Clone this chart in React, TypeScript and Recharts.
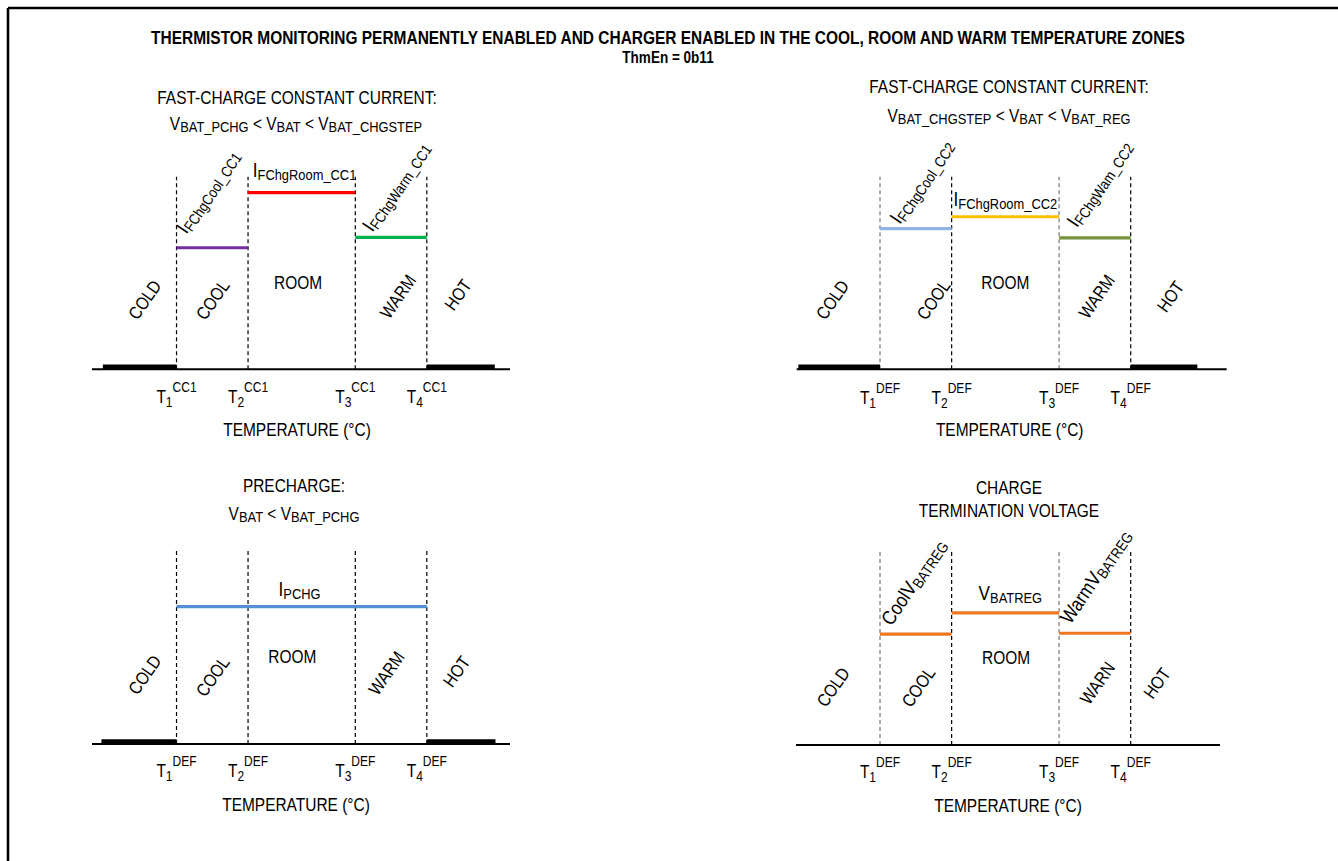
import React from "react";
import { LineChart, Line, XAxis, YAxis, ReferenceLine, ReferenceDot } from "recharts";

const FONT = '"Liberation Sans", Arial, sans-serif';
const SX = 0.86; // the reference uses a narrow face, so text is squeezed horizontally

// temperature thresholds T1..T4 on a relative temperature axis
const thresholds = [0, 10, 25, 35];
const thresholdIndex = ["1", "2", "3", "4"];
const zoneNames = ["COLD", "COOL", "ROOM", "WARM", "HOT"];
const zoneNamesTermination = ["COLD", "COOL", "ROOM", "WARN", "HOT"];

// levels in the cool, room and warm zones (% of full scale)
const fastCc1Levels = [63.1, 91.7, 68.5];
const fastCc2Levels = [73.0, 79.2, 68.2];
const prechargeLevels = [70.8];
const terminationLevels = [56.9, 67.8, 57.3];

// charger off in COLD / HOT
const offLevel = 1.3;
const fastCc1Off = [[-10.3, 0], [35, 44.5]];
const fastCc2Off = [[-11.4, 0], [35, 44.3]];
const prechargeOff = [[-10.5, 0], [35, 44.6]];

type Part = { t: string; s?: "sub" | "sup" };

function rich(parts: Part[], size: number, small: number, subShift = 3, supShift = -11.5) {
  let cur = 0;
  return parts.map((p, i) => {
    const target = p.s === "sub" ? subShift : p.s === "sup" ? supShift : 0;
    const dy = target - cur;
    cur = target;
    return (
      <tspan key={i} dy={dy} fontSize={p.s ? small : size}>
        {p.t}
      </tspan>
    );
  });
}

// narrow text: translate, rotate, then squeeze along the baseline
function NText({ x, y, rot = 0, anchor = "middle", sx = SX, children, ...rest }: any) {
  return (
    <text
      transform={`translate(${x} ${y})${rot ? ` rotate(${rot})` : ""} scale(${sx} 1)`}
      x={0}
      y={0}
      textAnchor={anchor}
      fontFamily={FONT}
      fill="#000"
      {...rest}
    >
      {children}
    </text>
  );
}

function segments(levels: number[], colors: string[]) {
  if (levels.length === 1) {
    return [{ data: [{ t: thresholds[0], v: levels[0] }, { t: thresholds[3], v: levels[0] }], color: colors[0] }];
  }
  return levels.map((v, i) => ({
    data: [{ t: thresholds[i], v }, { t: thresholds[i + 1], v }],
    color: colors[i],
  }));
}

const ThresholdTick = (props: any) => {
  const { x, y, payload, sup, offset } = props;
  const idx = thresholds.indexOf(payload.value);
  return (
    <NText x={x} y={y + offset}>
      {rich([{ t: "T" }, { t: thresholdIndex[idx], s: "sub" }, { t: sup, s: "sup" }], 18, 14, 3.5, -11)}
    </NText>
  );
};

const panels = [
  {
    box: { left: 0, top: 110, width: 669, height: 340 },
    margin: { top: 66.7, right: 159, bottom: 10.7, left: 92 },
    xDomain: [-11.82, 46.63],
    sup: "CC1",
    tickOffset: 34,
    labelDx: -4,
    dash: ["#000", "#000", "#000", "#000"],
    segs: segments(fastCc1Levels, ["#7030A0", "#FF0000", "#00B050"]),
    off: fastCc1Off,
    zones: zoneNames,
    zonePos: [[-4.4, 36, -55], [5.1, 36, -55], [17.0, 44.6, 0], [31.0, 37.7, -55], [39.4, 38.6, -55]],
    labels: [
      { parts: [{ t: "I" }, { t: "FChgCool_CC1", s: "sub" }], x: 1.4, y: 69.8, rot: -56, anchor: "start" },
      { parts: [{ t: "I" }, { t: "FChgRoom_CC1", s: "sub" }], x: 17.9, y: 99.8, rot: 0, anchor: "middle" },
      { parts: [{ t: "I" }, { t: "FChgWarm_CC1", s: "sub" }], x: 27.4, y: 70.9, rot: -56, anchor: "start" },
    ] as any[],
  },
  {
    box: { left: 669, top: 110, width: 669, height: 340 },
    margin: { top: 66.7, right: 111.3, bottom: 10.7, left: 127.7 },
    xDomain: [-11.63, 48.4],
    sup: "DEF",
    tickOffset: 35,
    labelDx: -2,
    dash: ["#777", "#000", "#777", "#000"],
    segs: segments(fastCc2Levels, ["#8DB4E2", "#FFC000", "#77933C"]),
    off: fastCc2Off,
    zones: zoneNames,
    zonePos: [[-6.6, 36, -55], [7.5, 36, -55], [17.5, 44.6, 0], [30.3, 37.7, -55], [40.6, 37.7, -55]],
    labels: [
      { parts: [{ t: "I" }, { t: "FChgCool_CC2", s: "sub" }], x: 2.8, y: 74.9, rot: -56, anchor: "start" },
      { parts: [{ t: "I" }, { t: "FChgRoom_CC2", s: "sub" }], x: 17.5, y: 84.8, rot: 0, anchor: "middle" },
      { parts: [{ t: "I" }, { t: "FChgWam_CC2", s: "sub" }], x: 27.5, y: 73.2, rot: -56, anchor: "start" },
    ] as any[],
  },
  {
    box: { left: 0, top: 495, width: 669, height: 350 },
    margin: { top: 55, right: 159, bottom: 31, left: 92 },
    xDomain: [-11.82, 46.63],
    sup: "DEF",
    tickOffset: 33,
    labelDx: -5,
    dash: ["#000", "#000", "#000", "#000"],
    segs: segments(prechargeLevels, ["#558ED5"]),
    off: prechargeOff,
    zones: zoneNames,
    zonePos: [[-4.4, 35.6, -55], [5.1, 34.7, -55], [16.2, 44.7, 0], [29.4, 36.4, -55], [39.2, 37.3, -55]],
    labels: [
      { parts: [{ t: "I" }, { t: "PCHG", s: "sub" }], x: 17.2, y: 76.3, rot: 0, anchor: "middle" },
    ] as any[],
  },
  {
    box: { left: 669, top: 495, width: 669, height: 350 },
    margin: { top: 55, right: 118, bottom: 30, left: 127 },
    xDomain: [-11.73, 47.47],
    sup: "DEF",
    tickOffset: 33,
    labelDx: 0,
    dash: ["#777", "#000", "#777", "#000"],
    segs: segments(terminationLevels, ["#EE7722", "#EE7722", "#EE7722"]),
    off: [] as number[][],
    zones: zoneNamesTermination,
    zonePos: [[-6.5, 29.6, -55], [5.4, 29.6, -55], [17.6, 44.5, 0], [30.4, 31.6, -55], [38.7, 31.6, -55]],
    labels: [
      { parts: [{ t: "CoolV" }, { t: "BATREG", s: "sub" }], x: 1.6, y: 60.7, rot: -56, anchor: "start" },
      { parts: [{ t: "V" }, { t: "BATREG", s: "sub" }], x: 18.2, y: 74.4, rot: 0, anchor: "middle" },
      { parts: [{ t: "WarmV" }, { t: "BATREG", s: "sub" }], x: 26.6, y: 61.5, rot: -56, anchor: "start" },
    ] as any[],
  },
];

function Panel({ cfg }: { cfg: (typeof panels)[number] }) {
  return (
    <div style={{ position: "absolute", left: cfg.box.left, top: cfg.box.top }}>
      <LineChart width={cfg.box.width} height={cfg.box.height} margin={cfg.margin}>
        <XAxis
          type="number"
          dataKey="t"
          domain={cfg.xDomain}
          allowDataOverflow
          ticks={thresholds}
          interval={0}
          tickLine={false}
          tickSize={0}
          tickMargin={0}
          height={70}
          axisLine={{ stroke: "#000", strokeWidth: 2 }}
          tick={(p: any) => <ThresholdTick {...p} sup={cfg.sup} offset={cfg.tickOffset} />}
          label={{
            content: (p: any) => {
              const vb = p.viewBox || {};
              return (
                <NText x={vb.x + vb.width / 2 + cfg.labelDx} y={vb.y + 67} fontSize={18}>
                  TEMPERATURE (°C)
                </NText>
              );
            },
          }}
        />
        <YAxis type="number" domain={[0, 100]} allowDataOverflow hide />
        {thresholds.map((t, i) => (
          <ReferenceLine key={"r" + i} x={t} stroke={cfg.dash[i]} strokeDasharray="4 3" strokeWidth={1.2} />
        ))}
        {cfg.off.map((s, i) => (
          <Line
            key={"off" + i}
            data={[{ t: s[0], v: offLevel }, { t: s[1], v: offLevel }]}
            dataKey="v"
            stroke="#000"
            strokeWidth={4.5}
            dot={false}
            activeDot={false}
            isAnimationActive={false}
          />
        ))}
        {cfg.segs.map((s, i) => (
          <Line
            key={"seg" + i}
            data={s.data}
            dataKey="v"
            stroke={s.color}
            strokeWidth={3.2}
            dot={false}
            activeDot={false}
            isAnimationActive={false}
          />
        ))}
        {cfg.zonePos.map((z, i) => (
          <ReferenceDot
            key={"z" + i}
            x={z[0]}
            y={z[1]}
            r={1}
            ifOverflow="visible"
            shape={(p: any) => (
              <NText x={p.cx} y={p.cy} rot={z[2]} dominantBaseline="central" fontSize={18}>
                {cfg.zones[i]}
              </NText>
            )}
          />
        ))}
        {cfg.labels.map((l, i) => (
          <ReferenceDot
            key={"l" + i}
            x={l.x}
            y={l.y}
            r={1}
            ifOverflow="visible"
            shape={(p: any) => (
              <NText x={p.cx} y={p.cy} rot={l.rot} anchor={l.anchor}>
                {rich(l.parts, 20, 15, 3)}
              </NText>
            )}
          />
        ))}
      </LineChart>
    </div>
  );
}

export default function App() {
  return (
    <div style={{ position: "absolute", left: 0, top: 0, width: 1338, height: 861, background: "#fff", fontFamily: FONT }}>
      {panels.map((cfg, i) => (
        <Panel key={i} cfg={cfg} />
      ))}
      <svg width={1338} height={861} style={{ position: "absolute", left: 0, top: 0, pointerEvents: "none" }}>
        <line x1={8} y1={8} x2={1338} y2={8} stroke="#000" strokeWidth={2.6} />
        <line x1={8} y1={8} x2={8} y2={861} stroke="#000" strokeWidth={2.6} />
        <NText x={668} y={44} fontSize={18} fontWeight="bold" sx={0.86}>
          THERMISTOR MONITORING PERMANENTLY ENABLED AND CHARGER ENABLED IN THE COOL, ROOM AND WARM TEMPERATURE ZONES
        </NText>
        <NText x={668} y={63} fontSize={16.5} fontWeight="bold" sx={0.82}>ThmEn = 0b11</NText>

        <NText x={297} y={104} fontSize={18}>FAST-CHARGE CONSTANT CURRENT:</NText>
        <NText x={296} y={130}>
          {rich([{ t: "V" }, { t: "BAT_PCHG", s: "sub" }, { t: " < V" }, { t: "BAT", s: "sub" }, { t: " < V" }, { t: "BAT_CHGSTEP", s: "sub" }], 18, 15, 2)}
        </NText>

        <NText x={1009} y={93} fontSize={18}>FAST-CHARGE CONSTANT CURRENT:</NText>
        <NText x={1009} y={122}>
          {rich([{ t: "V" }, { t: "BAT_CHGSTEP", s: "sub" }, { t: " < V" }, { t: "BAT", s: "sub" }, { t: " < V" }, { t: "BAT_REG", s: "sub" }], 18, 15, 2)}
        </NText>

        <NText x={294} y={492} fontSize={18}>PRECHARGE:</NText>
        <NText x={294} y={520}>
          {rich([{ t: "V" }, { t: "BAT", s: "sub" }, { t: " < V" }, { t: "BAT_PCHG", s: "sub" }], 18, 15, 2)}
        </NText>

        <NText x={1009} y={494} fontSize={18}>CHARGE</NText>
        <NText x={1009} y={517} fontSize={18}>TERMINATION VOLTAGE</NText>
      </svg>
    </div>
  );
}
